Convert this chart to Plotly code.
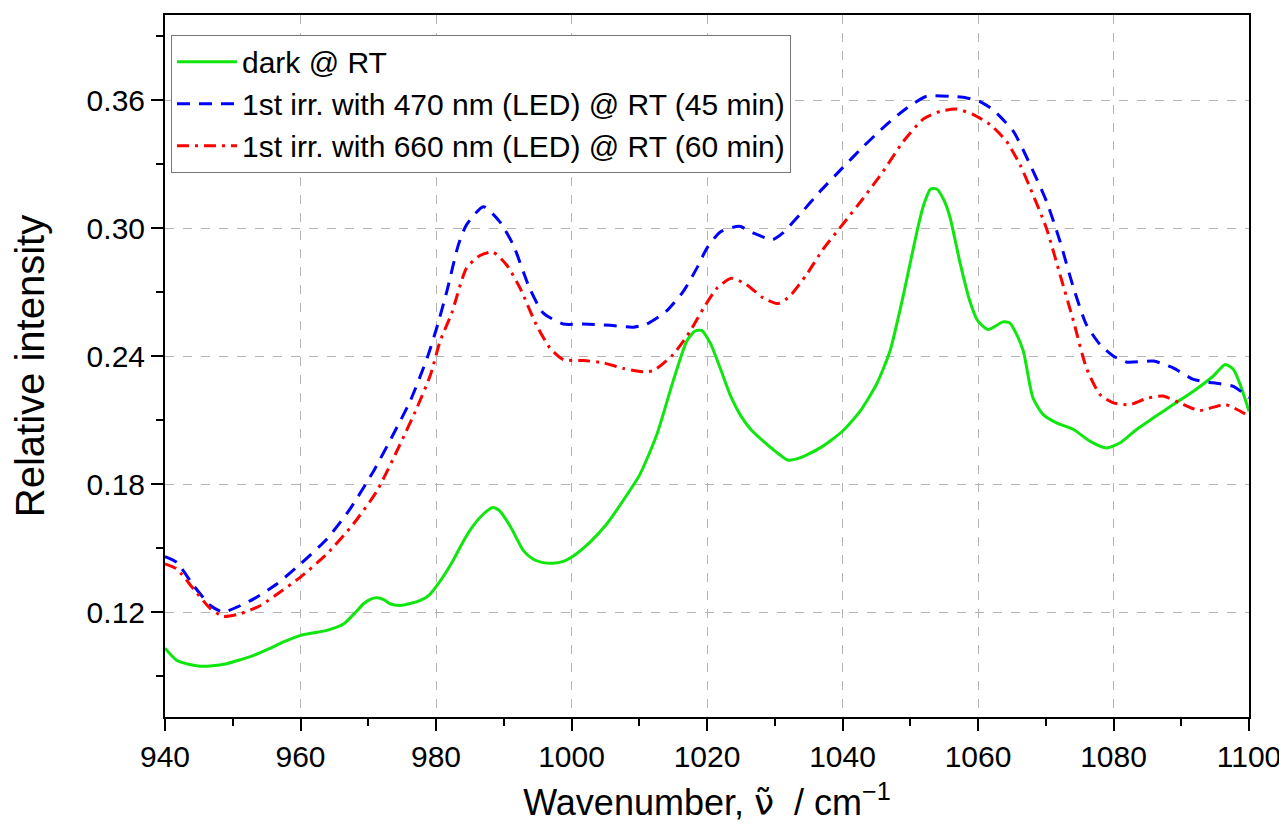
import plotly.graph_objects as go

# ---- data ----
dark_x = [940, 941.7, 943.5, 945.2, 947, 949.1, 951, 953.1, 955.3, 957.5, 960, 962, 963.9, 966.4, 968,
          969.3, 970.3, 971.3, 972.3, 973.2, 974.7, 976.2, 977.7, 979, 980.5, 982.5, 984, 985.5, 987,
          988.4, 989.4, 991, 992.9, 994.3, 995.8, 997.3, 998.8, 1000, 1002.7, 1005.2, 1007.6, 1010.1,
          1012.6, 1015, 1017, 1018.2, 1019.2, 1020.5, 1022, 1023.4, 1025, 1026.5, 1028.3, 1030.7,
          1031.9, 1033.7, 1036.7, 1040, 1042.6, 1045, 1047, 1049, 1051, 1052, 1053, 1053.9, 1055,
          1055.9, 1057.3, 1058.8, 1060, 1061.5, 1063.7, 1064.7, 1065.7, 1066.7, 1068.1, 1069.6,
          1071.6, 1074.1, 1076.5, 1079, 1081, 1083.4, 1085.9, 1088.8, 1091.8, 1094.7, 1096.5,
          1097.7, 1098.7, 1100]
dark_y = [0.103, 0.0974, 0.0955, 0.0946, 0.0948, 0.0958, 0.0975, 0.0997, 0.1027, 0.106, 0.1091, 0.1103,
          0.1114, 0.1145, 0.1195, 0.1239, 0.126, 0.1267, 0.1258, 0.1239, 0.1231, 0.124, 0.1255, 0.128,
          0.134, 0.1441, 0.153, 0.1605, 0.166, 0.1691, 0.1675, 0.160, 0.1488, 0.1449, 0.1432, 0.1429,
          0.1438, 0.1457, 0.1527, 0.1613, 0.1722, 0.1846, 0.2033, 0.2283, 0.247, 0.2517, 0.2521,
          0.246, 0.234, 0.222, 0.212, 0.2055, 0.2002, 0.1939, 0.1913, 0.1923, 0.197, 0.2048, 0.2142,
          0.2267, 0.2423, 0.2689, 0.2986, 0.3111, 0.3184, 0.3184, 0.313, 0.3048, 0.2845, 0.2658,
          0.2564, 0.2525, 0.2561, 0.2556, 0.2502, 0.2423, 0.2205, 0.2127, 0.2087, 0.2056, 0.2002,
          0.197, 0.1994, 0.2056, 0.2111, 0.2173, 0.2236, 0.2306, 0.2361, 0.2338, 0.2267, 0.2142]

blue_x = [940, 941.7, 944.2, 946.7, 948.6, 950.6, 953.1, 956.5, 960, 963.9, 967.3, 970.8, 973.7, 976.2,
          978.7, 980.1, 981.6, 983.3, 984.5, 987, 989.4, 991.4, 993.8, 995.8, 998.8, 1001.7, 1005.7,
          1009.1, 1011.1, 1014, 1016.5, 1018.5, 1020, 1022, 1024.8, 1026.8, 1029.7, 1031.2, 1033.7,
          1036.7, 1040, 1043.1, 1046.5, 1049.5, 1052.4, 1055.9, 1058.3, 1060.2, 1062.2, 1065.2,
          1067.7, 1070.1, 1072.1, 1074.1, 1076, 1078, 1080, 1082, 1085.9, 1088.8, 1091.8, 1094.7,
          1097.7, 1100]
blue_y = [0.146, 0.1434, 0.1325, 0.1231, 0.12, 0.1223, 0.1262, 0.1332, 0.1426, 0.1543, 0.1683, 0.1862,
          0.2034, 0.219, 0.2392, 0.2532, 0.2704, 0.2922, 0.3016, 0.3101, 0.3031, 0.2922, 0.272,
          0.2603, 0.2551, 0.2551, 0.2545, 0.2536, 0.2551, 0.2611, 0.2704, 0.2813, 0.2907, 0.2984,
          0.3009, 0.2978, 0.2947, 0.2978, 0.3064, 0.3173, 0.3283, 0.3384, 0.3486, 0.3564, 0.3619,
          0.3619, 0.3611, 0.3595, 0.3556, 0.3455, 0.3298, 0.3127, 0.2939, 0.272, 0.2548, 0.2455,
          0.24, 0.2372, 0.2377, 0.2345, 0.2291, 0.2275, 0.2259, 0.2205]

red_x = [940, 941.7, 944.2, 946.7, 948.6, 951.1, 954.1, 957, 960, 963.9, 967.8, 971.3, 974.7, 977.2,
         979.2, 980.6, 982.3, 984.5, 986.5, 988.4, 990.4, 992.4, 994.8, 996.8, 998.8, 1001.7, 1004.7,
         1007.6, 1010.6, 1012.1, 1015, 1017.5, 1019.5, 1021.5, 1023.6, 1025.8, 1028.3, 1030.5,
         1032.2, 1034.7, 1037.1, 1040, 1043.1, 1046, 1049, 1052, 1054.4, 1056.8, 1059.3, 1061.8,
         1064.2, 1066.2, 1067.7, 1070.1, 1072.1, 1074.1, 1076, 1078, 1080, 1082.4, 1084.9, 1087.3,
         1089.8, 1092.7, 1096.5, 1100]
red_y = [0.1426, 0.1403, 0.1309, 0.1216, 0.118, 0.1192, 0.1231, 0.1294, 0.1364, 0.1473, 0.1613, 0.1769,
         0.1987, 0.2159, 0.2314, 0.247, 0.2600, 0.2813, 0.2872, 0.2888, 0.2829, 0.272, 0.2548, 0.2439,
         0.2384, 0.238, 0.2369, 0.2343, 0.2327, 0.2333, 0.2408, 0.2517, 0.2626, 0.272, 0.2765,
         0.2736, 0.2673, 0.2647, 0.2681, 0.2783, 0.29, 0.3017, 0.3142, 0.3267, 0.3408, 0.3514,
         0.3548, 0.3559, 0.3533, 0.3486, 0.3408, 0.3298, 0.3189, 0.30, 0.2783, 0.2564, 0.2345, 0.222,
         0.2181, 0.2173, 0.2202, 0.2213, 0.2181, 0.2145, 0.2173, 0.2119]

labels = ["dark @ RT",
          "1st irr. with 470 nm (LED) @ RT (45 min)",
          "1st irr. with 660 nm (LED) @ RT (60 min)"]

y_ticks = [0.12, 0.18, 0.24, 0.30, 0.36]
x_ticks = [940, 960, 980, 1000, 1020, 1040, 1060, 1080, 1100]

FONT = "Liberation Sans, Arial, sans-serif"

fig = go.Figure()
fig.add_trace(go.Scatter(x=dark_x, y=dark_y, mode="lines", name=labels[0],
                         line=dict(color="#0ee60e", width=3, shape="spline", smoothing=0.6)))
fig.add_trace(go.Scatter(x=blue_x, y=blue_y, mode="lines", name=labels[1],
                         line=dict(color="#0000ff", width=3, dash="13px,9px", shape="spline", smoothing=0.6)))
fig.add_trace(go.Scatter(x=red_x, y=red_y, mode="lines", name=labels[2],
                         line=dict(color="#ff0000", width=3, dash="12px,6px,3px,6px", shape="spline", smoothing=0.6)))

axis_common = dict(
    showline=True, linecolor="black", linewidth=2, mirror=True,
    ticks="outside", ticklen=12, tickwidth=2, tickcolor="black",
    showgrid=True, gridcolor="#b4b4b4", gridwidth=1, griddash="dash",
    zeroline=False,
    tickfont=dict(family=FONT, size=30, color="black"),
)

fig.update_xaxes(
    **axis_common,
    range=[940, 1100], tickvals=x_ticks,
    minor=dict(ticks="outside", ticklen=7, tickwidth=2, tickcolor="black", dtick=10, tick0=940, showgrid=False),
    title=dict(text="Wavenumber, <span style='font-family:DejaVu Sans'>ν\u0303</span>  / cm<sup>−1</sup>",
               font=dict(family=FONT, size=36, color="black"), standoff=18),
)
fig.update_yaxes(
    **axis_common,
    range=[0.0708, 0.40], tickvals=y_ticks, tickformat=".2f",
    minor=dict(ticks="outside", ticklen=7, tickwidth=2, tickcolor="black", dtick=0.03, tick0=0.0, showgrid=False),
    title=dict(text="Relative intensity", font=dict(family=FONT, size=40, color="black"), standoff=31),
)

# page body has an 8px default margin: the figure is sized/offset to compensate
fig.update_layout(
    width=1279, height=825,
    margin=dict(l=157, r=38, t=5, b=116),
    plot_bgcolor="white", paper_bgcolor="white",
    showlegend=True,
    legend=dict(
        x=0.0055, y=0.972, xanchor="left", yanchor="top",
        bgcolor="white", bordercolor="#777777", borderwidth=1,
        font=dict(family=FONT, size=30, color="black"),
        itemwidth=60, tracegroupgap=0,
    ),
)

fig.write_html("out.html")
